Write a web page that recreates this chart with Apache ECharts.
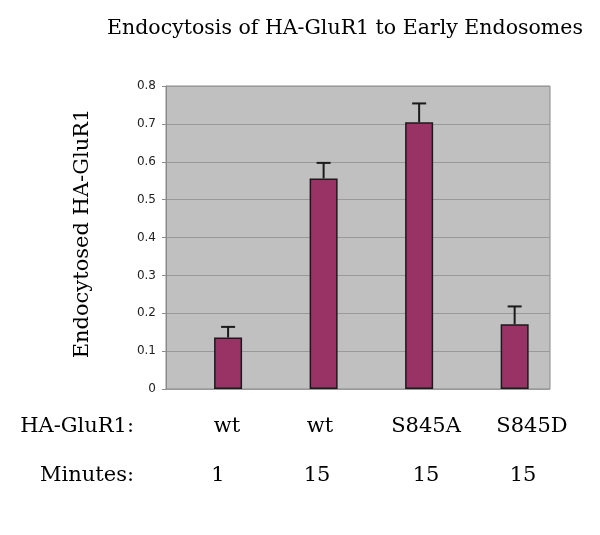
<!DOCTYPE html>
<html>
<head>
<meta charset="utf-8">
<script src="https://cdn.jsdelivr.net/npm/echarts@6/dist/echarts.min.js"></script>
<style>
html,body{margin:0;padding:0;background:#fff;}
#chart{width:600px;height:535px;}
</style>
</head>
<body>
<div id="chart"></div>
<script>
var constructs = ['wt', 'wt', 'S845A', 'S845D'];
var minutes = ['1', '15', '15', '15'];
var values = [0.136, 0.556, 0.704, 0.171];
var errors = [0.028, 0.041, 0.050, 0.047];
var yTicks = [0, 0.1, 0.2, 0.3, 0.4, 0.5, 0.6, 0.7, 0.8];

// layout of the text table under the chart (pixel positions, not data)
var constructX = [227, 320, 426, 532];
var minutesX = [218, 317, 426, 523];

var serif = '"DejaVu Serif", "Liberation Serif", serif';
var chart = echarts.init(document.getElementById('chart'), null, {renderer: 'canvas'});

var barData = values.map(function (v, i) { return [i, v]; });
var errData = values.map(function (v, i) { return [i, v, v + errors[i]]; });

var option = {
  animation: false,
  title: {
    text: 'Endocytosis of HA-GluR1 to Early Endosomes',
    left: 340, top: 13, textAlign: 'center',
    textStyle: {fontFamily: serif, fontWeight: 'normal', fontSize: 20.5, color: '#000'}
  },
  grid: {
    left: 166, right: 50, top: 86, bottom: 146,
    show: true, backgroundColor: '#c0c0c0', borderColor: '#8a8a8a', borderWidth: 1
  },
  xAxis: {
    type: 'value', min: -0.65, max: 3.37,
    axisLine: {show: false}, axisTick: {show: false}, axisLabel: {show: false}, splitLine: {show: false}
  },
  yAxis: {
    type: 'value', min: yTicks[0], max: yTicks[yTicks.length - 1], interval: 0.1,
    name: 'Endocytosed HA-GluR1', nameLocation: 'middle', nameGap: 73, nameRotate: 90,
    nameTextStyle: {fontFamily: serif, fontSize: 21, color: '#000', padding: [0, 0, 0, 8]},
    axisLine: {show: true, onZero: false, lineStyle: {color: '#8a8a8a'}},
    axisTick: {show: true, length: 4, lineStyle: {color: '#8a8a8a'}},
    axisLabel: {fontFamily: '"DejaVu Sans", Verdana, sans-serif', fontSize: 12, color: '#222', margin: 10,
      formatter: function (v) { return String(Math.round(v * 10) / 10); }},
    splitLine: {lineStyle: {color: '#999999', width: 1}}
  },
  series: [
    {
      type: 'bar', data: barData, barWidth: 28,
      itemStyle: {color: '#993366', borderColor: '#1a1a1a', borderWidth: 1.5}
    },
    {
      type: 'custom', data: errData, z: 1,
      renderItem: function (params, api) {
        var x = api.value(0);
        var p0 = api.coord([x, api.value(1)]);
        var p1 = api.coord([x, api.value(2)]);
        var half = 7;
        return {
          type: 'group',
          children: [
            {type: 'line', shape: {x1: p0[0], y1: p0[1], x2: p1[0], y2: p1[1]}, style: {stroke: '#1a1a1a', lineWidth: 2}},
            {type: 'line', shape: {x1: p1[0] - half, y1: p1[1], x2: p1[0] + half, y2: p1[1]}, style: {stroke: '#1a1a1a', lineWidth: 2}}
          ]
        };
      }
    }
  ]
};
chart.setOption(option);

var rowY1 = 427, rowY2 = 476;
var font = '21px ' + serif;
var texts = [
  {type: 'text', x: 134, y: rowY1, style: {text: 'HA-GluR1:', font: font, fill: '#000', align: 'right', verticalAlign: 'middle'}},
  {type: 'text', x: 134, y: rowY2, style: {text: 'Minutes:', font: font, fill: '#000', align: 'right', verticalAlign: 'middle'}}
];
constructs.forEach(function (c, i) {
  texts.push({type: 'text', x: constructX[i], y: rowY1, style: {text: c, font: font, fill: '#000', align: 'center', verticalAlign: 'middle'}});
  texts.push({type: 'text', x: minutesX[i], y: rowY2, style: {text: minutes[i], font: font, fill: '#000', align: 'center', verticalAlign: 'middle'}});
});
chart.setOption({graphic: texts});
</script>
</body>
</html>
